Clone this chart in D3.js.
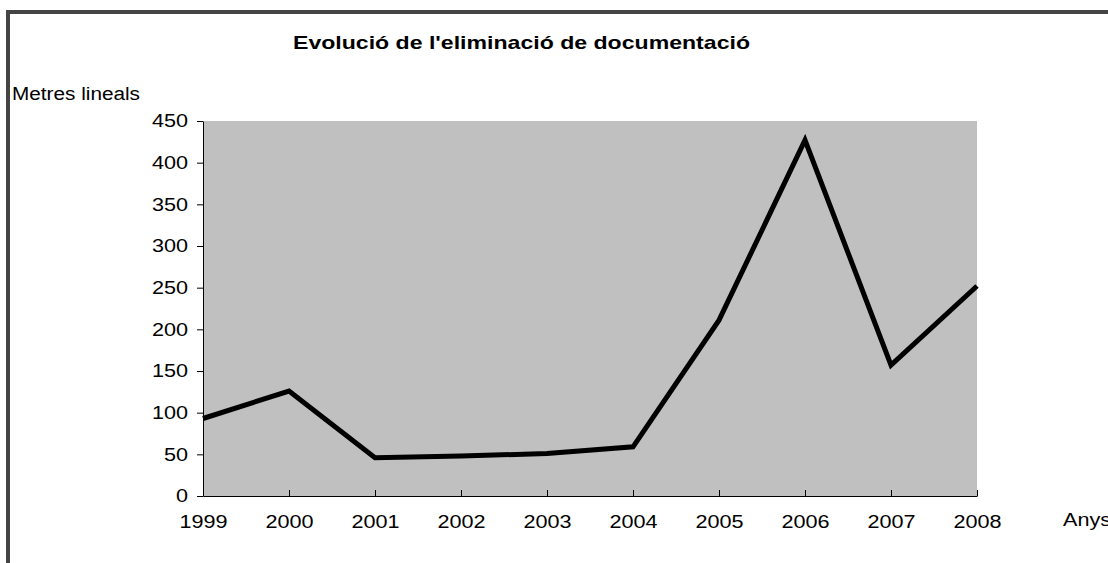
<!DOCTYPE html>
<html>
<head>
<meta charset="utf-8">
<script src="https://cdn.jsdelivr.net/npm/d3@7"></script>
<style>
body { margin: 0; background: #fff; }
text { font-family: "Liberation Sans", Arial, sans-serif; }
</style>
</head>
<body>
<div id="chart"></div>
<script>
var years = ["1999", "2000", "2001", "2002", "2003", "2004", "2005", "2006", "2007", "2008"];
var metres = [93, 126, 46, 48, 51, 59, 211, 427, 157, 252];
var yTicks = [0, 50, 100, 150, 200, 250, 300, 350, 400, 450];

var width = 1108, height = 563;
var margin = {left: 203, right: 131, top: 121, bottom: 67};

var svg = d3.select("#chart").append("svg")
  .attr("width", width)
  .attr("height", height);

// widen glyphs a bit, the original text is stretched sideways
function stretch(sel, k) {
  sel.each(function() {
    var w = this.getComputedTextLength();
    d3.select(this).attr("textLength", w * k).attr("lengthAdjust", "spacingAndGlyphs");
  });
}

// frame
svg.append("rect")
  .attr("x", 8).attr("y", 12)
  .attr("width", 1200).attr("height", 700)
  .attr("fill", "none")
  .attr("stroke", "#444")
  .attr("stroke-width", 4);

var x = d3.scalePoint()
  .domain(years)
  .range([margin.left, width - margin.right]);

var y = d3.scaleLinear()
  .domain([0, 450])
  .range([height - margin.bottom, margin.top]);

// plot area
svg.append("rect")
  .attr("x", margin.left).attr("y", margin.top)
  .attr("width", width - margin.right - margin.left)
  .attr("height", height - margin.bottom - margin.top)
  .attr("fill", "#c0c0c0");

var yAxis = svg.append("g")
  .attr("transform", "translate(" + margin.left + ",0)")
  .call(d3.axisLeft(y).tickValues(yTicks).tickSize(6).tickSizeOuter(0));

var xAxis = svg.append("g")
  .attr("transform", "translate(0," + (height - margin.bottom) + ")")
  .call(d3.axisBottom(x).tickSize(0).tickSizeOuter(0).tickPadding(19));

xAxis.selectAll(".tick").append("line")
  .attr("y1", -6).attr("y2", 0)
  .attr("stroke", "#000");

[yAxis, xAxis].forEach(function(a) {
  a.attr("font-size", null).attr("font-family", null);
  a.selectAll("text").attr("font-size", 18).attr("fill", "#000")
    .style("font-family", "'Liberation Sans', Arial, sans-serif");
  a.selectAll("path, line").attr("stroke", "#000");
});
yAxis.selectAll(".tick line").attr("x1", -6).attr("x2", 0);
yAxis.selectAll("text").attr("x", -15);
xAxis.selectAll("text").attr("dy", "0.71em");
stretch(yAxis.selectAll("text"), 1.2);
stretch(xAxis.selectAll("text"), 1.2);

var line = d3.line()
  .x(function(d, i) { return x(years[i]); })
  .y(function(d) { return y(d); });

svg.append("path")
  .datum(metres)
  .attr("d", line)
  .attr("fill", "none")
  .attr("stroke", "#000")
  .attr("stroke-width", 5)
  .attr("stroke-linejoin", "miter");

svg.append("text")
  .attr("x", 293).attr("y", 49)
  .attr("font-size", 19)
  .attr("font-weight", "bold")
  .attr("textLength", 457)
  .attr("lengthAdjust", "spacingAndGlyphs")
  .text("Evolució de l'eliminació de documentació");

svg.append("text")
  .attr("x", 12).attr("y", 100)
  .attr("font-size", 18)
  .attr("textLength", 128)
  .attr("lengthAdjust", "spacingAndGlyphs")
  .text("Metres lineals");

var anys = svg.append("text")
  .attr("x", 1063).attr("y", 526)
  .attr("font-size", 18)
  .text("Anys");
stretch(anys, 1.2);
</script>
</body>
</html>
